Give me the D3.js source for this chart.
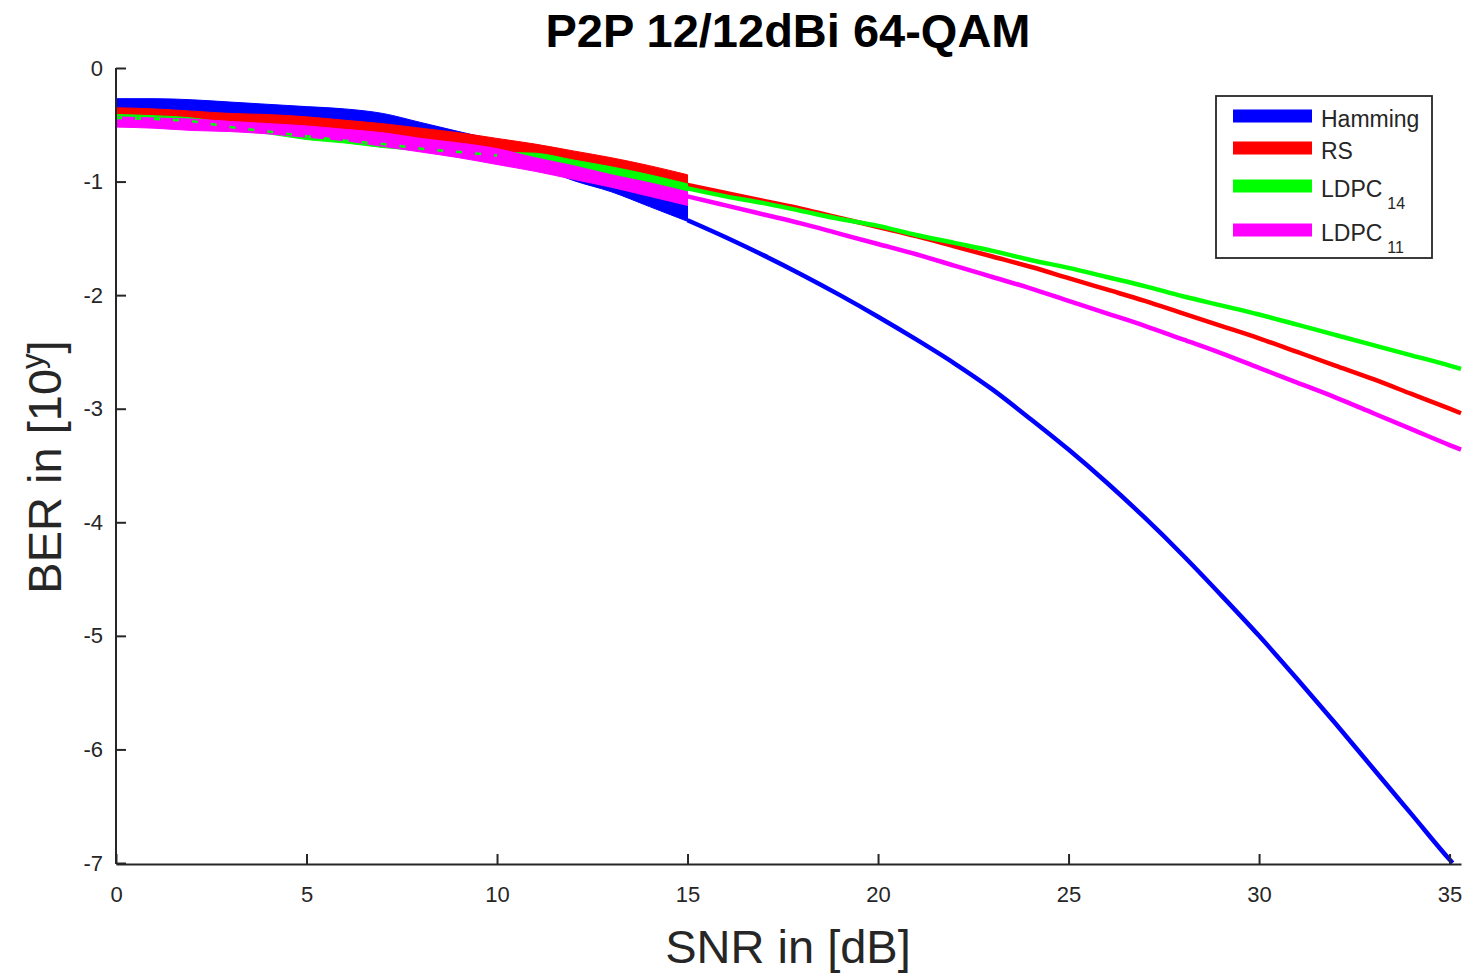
<!DOCTYPE html>
<html>
<head>
<meta charset="utf-8">
<script src="https://cdn.jsdelivr.net/npm/d3@7"></script>
<style>
  body { margin: 0; background: #fff; }
  text { font-family: "Liberation Sans", Arial, sans-serif; fill: #262626; }
</style>
</head>
<body>
<script>
// noisy start of the curves (0..15 dB) is drawn as a band: upper / lower BER exponent
const snrBand = [0, 1, 2, 3, 4, 5, 6, 7, 8, 9, 10, 11, 12, 13, 14, 15];
const hammingHi = [-0.27, -0.27, -0.28, -0.30, -0.32, -0.34, -0.36, -0.40, -0.48, -0.56, -0.64, -0.74, -0.86, -0.94, -1.02, -1.10];
const hammingLo = [-0.37, -0.38, -0.39, -0.41, -0.42, -0.44, -0.47, -0.50, -0.57, -0.65, -0.76, -0.86, -0.99, -1.09, -1.22, -1.35];
const rsHi = [-0.35, -0.36, -0.38, -0.40, -0.41, -0.43, -0.46, -0.49, -0.53, -0.57, -0.62, -0.67, -0.73, -0.79, -0.86, -0.94];
const rsLo = [-0.44, -0.45, -0.47, -0.49, -0.50, -0.53, -0.56, -0.59, -0.63, -0.67, -0.72, -0.77, -0.83, -0.89, -0.96, -1.03];
const ldpc14Hi = [-0.41, -0.42, -0.44, -0.49, -0.53, -0.57, -0.61, -0.64, -0.68, -0.71, -0.74, -0.75, -0.81, -0.87, -0.94, -1.02];
const ldpc14Lo = [-0.47, -0.48, -0.49, -0.55, -0.58, -0.63, -0.66, -0.70, -0.73, -0.77, -0.79, -0.83, -0.89, -0.96, -1.03, -1.11];
const ldpc14Mid = [-0.44, -0.45, -0.47, -0.52, -0.56, -0.60, -0.64, -0.67, -0.71, -0.74, -0.77];
const ldpc11Hi = [-0.43, -0.44, -0.45, -0.47, -0.49, -0.51, -0.54, -0.57, -0.62, -0.66, -0.71, -0.79, -0.86, -0.94, -1.01, -1.09];
const ldpc11Lo = [-0.52, -0.53, -0.55, -0.56, -0.58, -0.61, -0.64, -0.69, -0.74, -0.79, -0.85, -0.91, -0.98, -1.05, -1.13, -1.21];

// smooth part of the curves (15..end dB)
const snrTail = [15, 16, 17, 18, 19, 20, 21, 22, 23, 24, 25, 26, 27, 28, 29, 30, 31, 32, 33, 34, 35];
const snrEndHamming = 35.08;
const snrEndOther = 35.3;
const hammingTail = [-1.34, -1.49, -1.65, -1.82, -2.00, -2.19, -2.39, -2.60, -2.83, -3.09, -3.36, -3.65, -3.96, -4.29, -4.64, -5.00, -5.38, -5.77, -6.17, -6.57, -6.97, -7.0];
const rsTail = [-1.03, -1.10, -1.17, -1.24, -1.32, -1.40, -1.48, -1.57, -1.66, -1.75, -1.85, -1.95, -2.05, -2.16, -2.27, -2.38, -2.50, -2.62, -2.74, -2.87, -3.00, -3.04];
const ldpc14Tail = [-1.06, -1.13, -1.19, -1.26, -1.33, -1.39, -1.47, -1.54, -1.61, -1.69, -1.76, -1.84, -1.92, -2.01, -2.09, -2.17, -2.26, -2.35, -2.44, -2.53, -2.62, -2.65];
const ldpc11Tail = [-1.13, -1.21, -1.29, -1.37, -1.46, -1.55, -1.64, -1.74, -1.84, -1.94, -2.05, -2.16, -2.27, -2.39, -2.51, -2.64, -2.77, -2.90, -3.04, -3.18, -3.32, -3.36];

const xTicks = [0, 5, 10, 15, 20, 25, 30, 35];
const yTicks = [0, -1, -2, -3, -4, -5, -6, -7];

const series = [
  {name: "Hamming", sub: "", color: "#0000ff", hi: hammingHi, lo: hammingLo, tail: hammingTail, end: snrEndHamming},
  {name: "RS", sub: "", color: "#ff0000", hi: rsHi, lo: rsLo, tail: rsTail, end: snrEndOther},
  {name: "LDPC", sub: "14", color: "#00ff00", hi: ldpc14Hi, lo: ldpc14Lo, tail: ldpc14Tail, end: snrEndOther},
  {name: "LDPC", sub: "11", color: "#ff00ff", hi: ldpc11Hi, lo: ldpc11Lo, tail: ldpc11Tail, end: snrEndOther}
];

const w = 1480, h = 974;
const svg = d3.select("body").append("svg")
  .attr("width", w)
  .attr("height", h);

const xScale = d3.scaleLinear().domain([0, 35.3]).range([116, 1461]);
const yScale = d3.scaleLinear().domain([0, -7]).range([68, 863]);

// curves
const area = d3.area()
  .x((d) => xScale(d.x))
  .y0((d) => yScale(d.lo))
  .y1((d) => yScale(d.hi))
  .curve(d3.curveMonotoneX);
const line = d3.line()
  .x((d) => xScale(d.x))
  .y((d) => yScale(d.y))
  .curve(d3.curveMonotoneX);

series.forEach((s) => {
  const band = snrBand.map((x, i) => ({x: x, hi: s.hi[i], lo: s.lo[i]}));
  svg.append("path")
    .attr("d", area(band))
    .attr("fill", s.color)
    .attr("stroke", s.color)
    .attr("stroke-width", 1);
  const xs = snrTail.concat([s.end]);
  const pts = xs.map((x, i) => ({x: x, y: s.tail[i]}));
  svg.append("path")
    .attr("d", line(pts))
    .attr("fill", "none")
    .attr("stroke", s.color)
    .attr("stroke-width", 4.5)
    .attr("stroke-linejoin", "round");
});

// green peeking through the magenta band
svg.append("path")
  .attr("d", line(ldpc14Mid.map((y, i) => ({x: snrBand[i], y: y}))))
  .attr("fill", "none")
  .attr("stroke", "#00ff00")
  .attr("stroke-width", 2.5)
  .attr("stroke-dasharray", "6 13");

// axes
const xAxis = d3.axisBottom(xScale)
  .tickValues(xTicks)
  .tickSizeInner(-10)
  .tickSizeOuter(0)
  .tickPadding(22)
  .tickFormat((d) => String(d));
const gx = svg.append("g")
  .attr("transform", "translate(0," + 864 + ")")
  .call(xAxis);

const yAxis = d3.axisLeft(yScale)
  .tickValues(yTicks)
  .tickSizeInner(-10)
  .tickSizeOuter(0)
  .tickPadding(13)
  .tickFormat((d) => String(d));
const gy = svg.append("g")
  .attr("transform", "translate(116,0)")
  .call(yAxis);

[gx, gy].forEach((g) => {
  g.select(".domain").attr("stroke", "#262626").attr("stroke-width", 2);
  g.selectAll(".tick line").attr("stroke", "#262626").attr("stroke-width", 2);
  g.selectAll(".tick text")
    .style("font-family", "'Liberation Sans', Arial, sans-serif")
    .style("font-size", "22px")
    .attr("fill", "#333");
});
gy.select(".domain").attr("d", "M0,68V864");

// title and labels
svg.append("text")
  .attr("x", 788)
  .attr("y", 47)
  .attr("text-anchor", "middle")
  .style("font-size", "47px")
  .style("font-weight", "bold")
  .style("fill", "#000")
  .text("P2P 12/12dBi 64-QAM");

svg.append("text")
  .attr("x", 788)
  .attr("y", 963)
  .attr("text-anchor", "middle")
  .style("font-size", "47px")
  .text("SNR in [dB]");

const yl = svg.append("text")
  .attr("transform", "translate(61,467) rotate(-90)")
  .attr("text-anchor", "middle")
  .style("font-size", "47px");
yl.append("tspan").text("BER in [10");
yl.append("tspan").attr("dy", -18).style("font-size", "31px").text("y");
yl.append("tspan").attr("dy", 18).text("]");

// legend
const legend = svg.append("g");
legend.append("rect")
  .attr("x", 1216)
  .attr("y", 96)
  .attr("width", 216)
  .attr("height", 162)
  .attr("fill", "#fff")
  .attr("stroke", "#262626")
  .attr("stroke-width", 1.8);

const legendY = [116, 148, 186, 230];
series.forEach((s, i) => {
  legend.append("line")
    .attr("x1", 1233)
    .attr("x2", 1312)
    .attr("y1", legendY[i])
    .attr("y2", legendY[i])
    .attr("stroke", s.color)
    .attr("stroke-width", 13);
  const t = legend.append("text")
    .attr("x", 1321)
    .attr("y", legendY[i] + 11)
    .style("font-size", "23px")
    .text(s.name);
  if (s.sub) {
    t.append("tspan")
      .attr("dx", 5)
      .attr("dy", 12)
      .style("font-size", "16px")
      .text(s.sub);
  }
});
</script>
</body>
</html>
